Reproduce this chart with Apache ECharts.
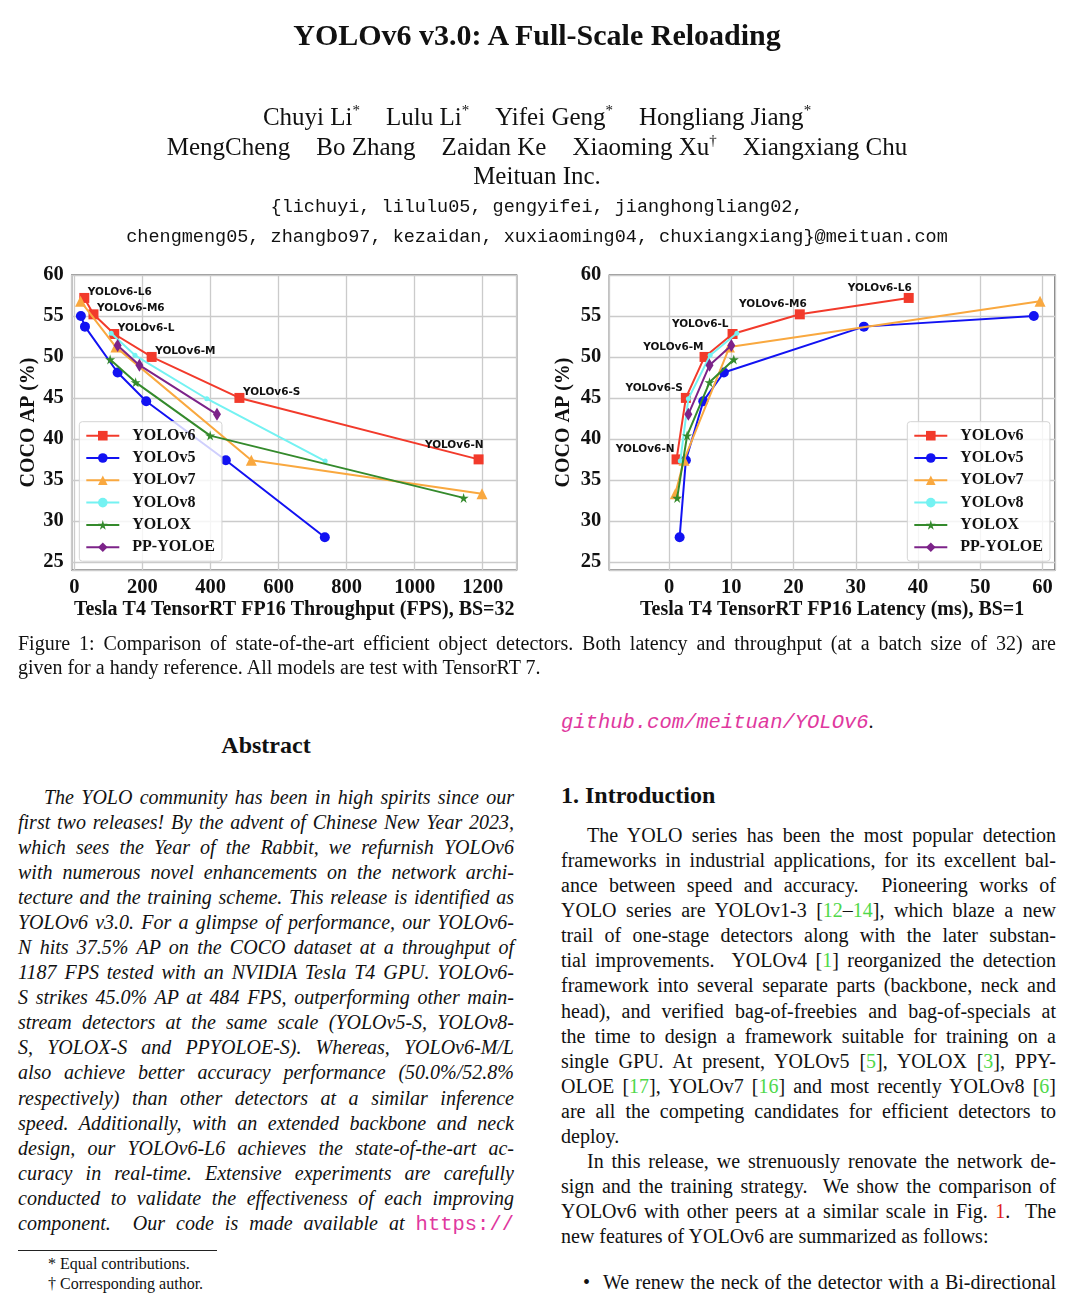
<!DOCTYPE html>
<html>
<head>
<meta charset="utf-8">
<script src="https://cdn.jsdelivr.net/npm/echarts@6/dist/echarts.min.js"></script>
<style>
html,body{margin:0;padding:0;background:#fff;}
body{width:1080px;height:1309px;position:relative;overflow:hidden;font-family:"Liberation Serif","Times New Roman",serif;color:#111;}
#chart{position:absolute;left:0;top:0;width:1080px;height:640px;}
.l{position:absolute;white-space:nowrap;font-size:20px;line-height:25px;}
.j{text-align:justify;text-align-last:justify;white-space:normal;}
.it{font-style:italic;}
.b{font-weight:bold;}
.c{text-align:center;left:0;width:1074px;}
.mono{font-family:"Liberation Mono","Courier New",monospace;}
.pink{color:#e0389e;font-family:"Liberation Mono","Courier New",monospace;font-style:italic;font-size:20.5px;}
.pk{color:#e0389e;font-family:"Liberation Mono","Courier New",monospace;font-size:20.5px;font-style:normal;}
.g{color:#4fd84a;}
.r{color:#e02020;}
.au span{display:inline-block;margin:0 13px;}
sup{font-size:0.6em;line-height:0;vertical-align:0.7em;}
</style>
</head>
<body>
<div id="chart"></div>

<div class="l c b" style="font-size:30px;line-height:37px;top:16px;">YOLOv6 v3.0: A Full-Scale Reloading</div>
<div class="l c au" style="font-size:25px;line-height:31px;top:100.5px;"><span>Chuyi Li<sup>*</sup></span><span>Lulu Li<sup>*</sup></span><span>Yifei Geng<sup>*</sup></span><span>Hongliang Jiang<sup>*</sup></span></div>
<div class="l c au" style="font-size:25px;line-height:31px;top:130.5px;"><span>MengCheng</span><span>Bo Zhang</span><span>Zaidan Ke</span><span>Xiaoming Xu<sup>†</sup></span><span>Xiangxiang Chu</span></div>
<div class="l c" style="font-size:25px;line-height:31px;top:159.5px;">Meituan Inc.</div>
<div class="l c mono" style="font-size:18.5px;line-height:23px;top:196px;">{lichuyi, lilulu05, gengyifei, jianghongliang02,</div>
<div class="l c mono" style="font-size:18.5px;line-height:23px;top:226px;">chengmeng05, zhangbo97, kezaidan, xuxiaoming04, chuxiangxiang}@meituan.com</div>

<div class="l j" style="left:18px;width:1038px;top:630.8px;">Figure 1: Comparison of state-of-the-art efficient object detectors. Both latency and throughput (at a batch size of 32) are</div>
<div class="l" style="left:18px;top:654.8px;">given for a handy reference. All models are test with TensorRT 7.</div>

<div class="l b" style="left:18px;width:496px;text-align:center;font-size:24px;line-height:30px;top:730px;">Abstract</div>
<div id="abs"></div>

<div class="l" style="left:561px;top:709px;"><span class="pink">github.com/meituan/YOLOv6</span>.</div>
<div class="l b" style="left:561px;font-size:24px;line-height:30px;top:780px;">1. Introduction</div>
<div id="intro"></div>

<div style="position:absolute;left:18px;top:1250px;width:199px;height:1px;background:#222;"></div>
<div class="l" style="left:48px;font-size:16px;line-height:20px;top:1254.4px;">* Equal contributions.</div>
<div class="l" style="left:48px;font-size:16px;line-height:20px;top:1274.4px;">† Corresponding author.</div>

<script>
// ---------------- page text lines ----------------
const absLines = [
  "The YOLO community has been in high spirits since our",
  "first two releases! By the advent of Chinese New Year 2023,",
  "which sees the Year of the Rabbit, we refurnish YOLOv6",
  "with numerous novel enhancements on the network archi-",
  "tecture and the training scheme. This release is identified as",
  "YOLOv6 v3.0. For a glimpse of performance, our YOLOv6-",
  "N hits 37.5% AP on the COCO dataset at a throughput of",
  "1187 FPS tested with an NVIDIA Tesla T4 GPU. YOLOv6-",
  "S strikes 45.0% AP at 484 FPS, outperforming other main-",
  "stream detectors at the same scale (YOLOv5-S, YOLOv8-",
  "S, YOLOX-S and PPYOLOE-S). Whereas, YOLOv6-M/L",
  "also achieve better accuracy performance (50.0%/52.8%",
  "respectively) than other detectors at a similar inference",
  "speed. Additionally, with an extended backbone and neck",
  "design, our YOLOv6-L6 achieves the state-of-the-art ac-",
  "curacy in real-time. Extensive experiments are carefully",
  "conducted to validate the effectiveness of each improving",
  "component. &nbsp;Our code is made available at <span class=\"pk\">https://</span>"
];
const introLines = [
  "The YOLO series has been the most popular detection",
  "frameworks in industrial applications, for its excellent bal-",
  "ance between speed and accuracy. &nbsp;Pioneering works of",
  "YOLO series are YOLOv1-3 [<span class=\"g\">12</span>–<span class=\"g\">14</span>], which blaze a new",
  "trail of one-stage detectors along with the later substan-",
  "tial improvements. &nbsp;YOLOv4 [<span class=\"g\">1</span>] reorganized the detection",
  "framework into several separate parts (backbone, neck and",
  "head), and verified bag-of-freebies and bag-of-specials at",
  "the time to design a framework suitable for training on a",
  "single GPU. At present, YOLOv5 [<span class=\"g\">5</span>], YOLOX [<span class=\"g\">3</span>], PPY-",
  "OLOE [<span class=\"g\">17</span>], YOLOv7 [<span class=\"g\">16</span>] and most recently YOLOv8 [<span class=\"g\">6</span>]",
  "are all the competing candidates for efficient detectors to",
  "deploy.",
  "In this release, we strenuously renovate the network de-",
  "sign and the training strategy. &nbsp;We show the comparison of",
  "YOLOv6 with other peers at a similar scale in Fig. <span class=\"r\">1</span>. &nbsp;The",
  "new features of YOLOv6 are summarized as follows:"
];
(function(){
  const abs = document.getElementById('abs');
  absLines.forEach((t,i)=>{
    const d = document.createElement('div');
    const indent = i===0 ? 26 : 0;
    d.className = 'l j it';
    d.style.left = (18+indent)+'px';
    d.style.width = (496-indent)+'px';
    d.style.top = (798 + 25.06*i - 13.2)+'px';
    d.innerHTML = t;
    abs.appendChild(d);
  });
  const intro = document.getElementById('intro');
  introLines.forEach((t,i)=>{
    const d = document.createElement('div');
    const indent = (i===0 || i===13) ? 26 : 0;
    const last = (i===12 || i===16);
    d.className = last ? 'l' : 'l j';
    d.style.left = (561+indent)+'px';
    if(!last) d.style.width = (495-indent)+'px';
    d.style.top = (836 + 25.1*i - 13.2)+'px';
    d.innerHTML = t;
    intro.appendChild(d);
  });
  const bl = document.createElement('div');
  bl.className='l'; bl.style.left='583px'; bl.style.top=(1283-13.2)+'px'; bl.innerHTML='•';
  intro.appendChild(bl);
  const bt = document.createElement('div');
  bt.className='l j'; bt.style.left='603px'; bt.style.width='453px'; bt.style.top=(1283-13.2)+'px';
  bt.innerHTML='We renew the neck of the detector with a Bi-directional';
  intro.appendChild(bt);
})();

// ---------------- chart data ----------------
const seriesNames = ['YOLOv6','YOLOv5','YOLOv7','YOLOv8','YOLOX','PP-YOLOE'];
const v6Labels = ['YOLOv6-L6','YOLOv6-M6','YOLOv6-L','YOLOv6-M','YOLOv6-S','YOLOv6-N'];
// Throughput (FPS, BS=32) vs COCO AP
const thrV6 = [[29,57.2],[56,55.2],[117,52.8],[227,50.0],[485,45.0],[1188,37.5]];
const thrV5 = [[19,55.0],[31,53.7],[127,48.1],[211,44.6],[445,37.4],[736,28.0]];
const thrV7 = [[18,56.8],[122,51.2],[520,37.4],[1198,33.3]];
const thrV8 = [[108,52.9],[178,50.2],[389,44.9],[737,37.3]];
const thrX  = [[105,49.7],[180,46.9],[399,40.4],[1144,32.8]];
const thrPP = [[127,51.4],[191,49.0],[419,43.0]];
// Latency (ms, BS=1) vs COCO AP
const latV6 = [[38.5,57.2],[21.0,55.2],[10.2,52.8],[5.7,50.0],[2.7,45.0],[1.2,37.5]];
const latV5 = [[58.6,55.0],[31.3,53.7],[8.8,48.1],[5.5,44.6],[2.7,37.4],[1.7,28.0]];
const latV7 = [[59.6,56.8],[9.7,51.2],[2.4,37.4],[1.0,33.3]];
const latV8 = [[10.9,52.9],[6.6,50.2],[3.1,44.9],[1.8,37.3]];
const latX  = [[10.4,49.7],[6.5,46.9],[2.9,40.4],[1.3,32.8]];
const latPP = [[10.0,51.4],[6.5,49.0],[3.1,43.0]];
const thrTitle = 'Tesla T4 TensorRT FP16 Throughput (FPS), BS=32';
const latTitle = 'Tesla T4 TensorRT FP16 Latency (ms), BS=1';
const yTitle = 'COCO AP (%)';

// ---------------- chart ----------------
const SERIF = '"Liberation Serif","Times New Roman",serif';
const STAR = 'path://M50,0 L61,35 L98,35 L68,57 L79,91 L50,70 L21,91 L32,57 L2,35 L39,35 Z';
const colors = ['#f23a2b','#1212f2','#f9a83f','#74f2f2','#348a2c','#7c2389'];
const symbols = ['rect','circle','triangle','circle',STAR,'diamond'];
const sizes = [10,10,11,5,10,[8,13]];

function xAxis(gi, min, max, step, name){
  return {type:'value', gridIndex:gi, min:min, max:max, minInterval:step, maxInterval:step,
    name:name, nameLocation:'middle', nameGap:30,
    nameTextStyle:{fontFamily:SERIF, fontWeight:'bold', fontSize:20, color:'#111'},
    axisLine:{show:false}, axisTick:{show:false},
    axisLabel:{showMinLabel:false, showMaxLabel:false, margin:7, fontFamily:SERIF, fontWeight:'bold', fontSize:20.5, color:'#111',
      formatter:function(v){ return String(Math.round(v*100)/100); }},
    splitLine:{show:true, lineStyle:{color:'#cbcbcb', width:1.3}}};
}
function yAxis(gi, gap){
  return {type:'value', gridIndex:gi, min:24, max:60, minInterval:5, maxInterval:5,
    name:yTitle, nameLocation:'middle', nameGap:gap, nameRotate:90,
    nameTextStyle:{fontFamily:SERIF, fontWeight:'bold', fontSize:20, color:'#111'},
    axisLine:{show:false}, axisTick:{show:false},
    axisLabel:{showMinLabel:false, showMaxLabel:true, margin:8, fontFamily:SERIF, fontWeight:'bold', fontSize:20.5, color:'#111',
      formatter:function(v){ return String(v); }},
    splitLine:{show:true, lineStyle:{color:'#cbcbcb', width:1.3}}};
}
function mk(i, data, gi){
  return {type:'line', name:seriesNames[i], xAxisIndex:gi, yAxisIndex:gi, data:data,
    symbol:symbols[i], symbolSize:sizes[i], showSymbol:true, showAllSymbol:true, symbolKeepAspect:false,
    itemStyle:{color:colors[i], borderWidth:0}, lineStyle:{color:colors[i], width:2},
    emphasis:{disabled:true}, animation:false, z:2+i};
}
const annFont = {fontFamily:'"DejaVu Sans",sans-serif', fontWeight:'bold', fontSize:10.5, color:'#111'};
const thrLab = [['left',3.5,-6],['left',3.5,-6],['left',3.5,-6],['left',3.5,-6],['left',3.5,-6],['right',5,-14]];
const latLab = [['right',3,-10],['right',7,-10],['right',-4,-10],['right',-1,-10],['right',-3,-10],['right',-2,-10]];
function labelled(data, lab){
  return data.map((p,k)=>({value:p, label:Object.assign({show:true, formatter:v6Labels[k], position:'inside',
    align:lab[k][0], verticalAlign:'middle', offset:[lab[k][1], lab[k][2]]}, annFont)}));
}
function legend(left){
  return {data:seriesNames, left:left, top:421.7, orient:'vertical', itemWidth:33, itemHeight:12, itemGap:6.3,
    padding:[6,7,6,6], backgroundColor:'rgba(255,255,255,0.8)', borderColor:'#d4d4d4', borderWidth:1, borderRadius:3,
    textStyle:{fontFamily:SERIF, fontWeight:'bold', fontSize:16, lineHeight:16, color:'#111', padding:[0,0,0,8]},
    selectedMode:false};
}

const chart = echarts.init(document.getElementById('chart'), null, {renderer:'canvas'});
chart.setOption({
  animation:false,
  grid:[
    {left:71.7, top:275, width:445, height:295, show:true, borderColor:'#333', borderWidth:1.2, backgroundColor:'transparent', containLabel:false},
    {left:609.3, top:275, width:445.7, height:295, show:true, borderColor:'#333', borderWidth:1.2, backgroundColor:'transparent', containLabel:false}
  ],
  xAxis:[xAxis(0,-8,1300,200,thrTitle), xAxis(1,-9.6,62,10,latTitle)],
  yAxis:[yAxis(0,33), yAxis(1,35)],
  legend:[legend(79.3), legend(907.3)],
  series:[
    mk(0, labelled(thrV6, thrLab), 0),
    mk(1, thrV5, 0), mk(2, thrV7, 0), mk(3, thrV8, 0), mk(4, thrX, 0), mk(5, thrPP, 0),
    mk(0, labelled(latV6, latLab), 1),
    mk(1, latV5, 1), mk(2, latV7, 1), mk(3, latV8, 1), mk(4, latX, 1), mk(5, latPP, 1)
  ]
});
</script>
</body>
</html>
